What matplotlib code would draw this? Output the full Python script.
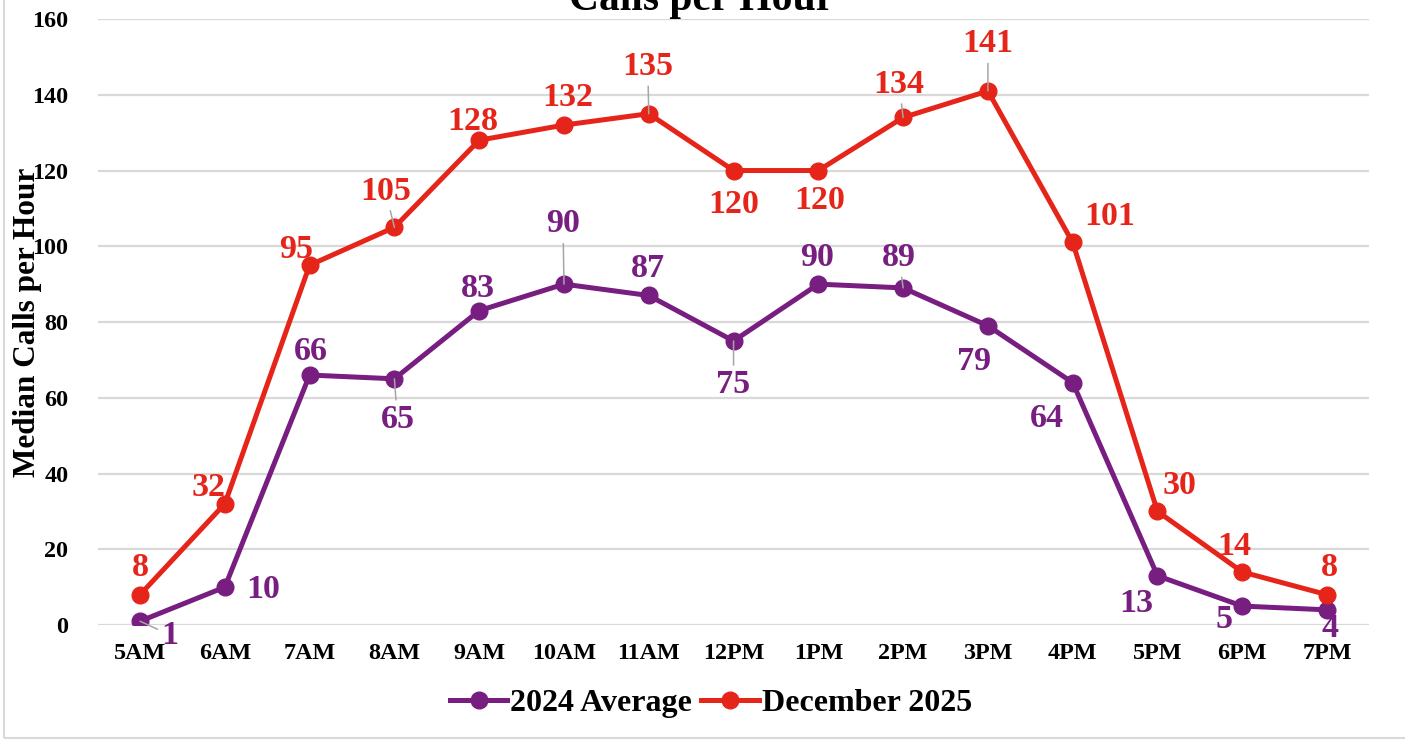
import matplotlib
matplotlib.use("Agg")
import matplotlib.pyplot as plt
from matplotlib.patches import Rectangle

hours = ["5AM", "6AM", "7AM", "8AM", "9AM", "10AM", "11AM", "12PM",
         "1PM", "2PM", "3PM", "4PM", "5PM", "6PM", "7PM"]
avg_2024 = [1, 10, 66, 65, 83, 90, 87, 75, 90, 89, 79, 64, 13, 5, 4]
dec_2025 = [8, 32, 95, 105, 128, 132, 135, 120, 120, 134, 141, 101, 30, 14, 8]

purple = "#771E80"
red = "#E6251A"
leader = "#A6A6A6"

# label offsets in pixels (visual centre of label relative to the point)
red_off = [(0, 30), (-16, 19), (-13, 18), (-9, 39), (-6, 22), (4, 30), (-1, 50),
           (0, -31), (1, -27), (-4, 36), (0, 50), (37, 29), (22, 29), (-8, 28), (2, 30)]
red_lead = [3, 6, 9, 10]
pur_off = [(30, -11), (38, 0), (1, 26), (3, -38), (-1, 25), (-1, 63), (-1, 30),
           (0, -41), (-1, 29), (-4, 33), (-14, -33), (-26, -33), (-21, -25), (-18, -11), (3, -16)]
pur_lead = [0, 3, 5, 7, 9]

plt.rcParams["font.family"] = ["Liberation Serif", "DejaVu Serif"]
plt.rcParams["font.weight"] = "bold"

fig = plt.figure(figsize=(14.05, 7.4), dpi=100)
ax = fig.add_axes([0.0695, 0.1554, 0.9052, 0.8189])

x = list(range(len(hours)))
ax.plot(x, avg_2024, color=purple, lw=3.6, marker="o", ms=12, label="2024 Average", zorder=3)
ax.plot(x, dec_2025, color=red, lw=3.6, marker="o", ms=12, label="December 2025", zorder=3)


def add_labels(vals, offs, leads, color):
    for i, v in enumerate(vals):
        dx, dy = offs[i]
        kw = {}
        if i in leads:
            kw["arrowprops"] = dict(arrowstyle="-", color=leader, lw=1.1, shrinkA=1, shrinkB=0)
        ax.annotate(str(v), xy=(i, v), xytext=(dx, dy - 11.3), textcoords="offset pixels",
                    ha="center", va="baseline", fontsize=24.5, fontweight="bold",
                    color=color, zorder=4, **kw)


add_labels(dec_2025, red_off, red_lead, red)
add_labels(avg_2024, pur_off, pur_lead, purple)

ax.set_xlim(-0.5, len(hours) - 0.5)
ax.set_ylim(0, 160)
ax.set_yticks(range(0, 161, 20))
ax.set_xticks(x)
ax.set_xticklabels(hours)
ax.tick_params(axis="both", length=0, labelsize=17.4)
ax.tick_params(axis="y", pad=21)
ax.tick_params(axis="x", pad=13)
for lbl in ax.get_xticklabels() + ax.get_yticklabels():
    lbl.set_fontweight("bold")
ax.grid(axis="y", color="#D9D9D9", lw=1.6)
ax.set_axisbelow(True)
for s in ax.spines.values():
    s.set_visible(False)

fig.text(0.0195, 0.5649, "Median Calls per Hour", rotation=90, ha="center", va="center",
         fontsize=22.5, fontweight="bold")
fig.text(0.4997, 1 - 10 / 740, "Calls per Hour", ha="center", va="baseline",
         fontsize=30, fontweight="bold")

fig.legend(loc="center", bbox_to_anchor=(0.506, 0.05), ncol=2, frameon=False,
           prop={"size": 23, "weight": "bold"}, handlelength=1.8,
           handletextpad=0.1, columnspacing=0.28)

fig.patches.append(Rectangle((4 / 1405, 2 / 740), 1.2, 1.2, transform=fig.transFigure,
                             fill=False, edgecolor="#D9D9D9", lw=1.5))

fig.savefig("out.png", dpi=100, facecolor="white")
